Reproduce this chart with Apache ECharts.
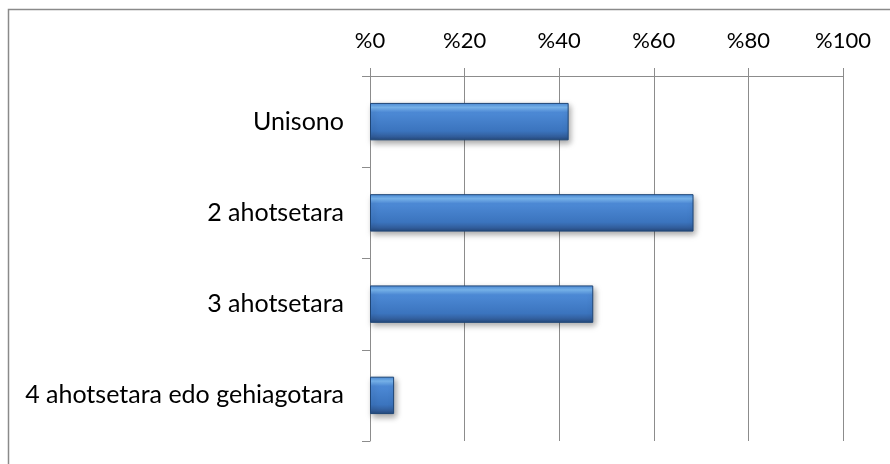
<!DOCTYPE html>
<html><head><meta charset="utf-8">
<script src="https://cdn.jsdelivr.net/npm/echarts@6/dist/echarts.min.js"></script>
<style>html,body{margin:0;padding:0;background:#fff}#c{width:890px;height:464px}</style>
</head><body><div id="c"></div>
<script>
const categories = ['Unisono', '2 ahotsetara', '3 ahotsetara', '4 ahotsetara edo gehiagotara'];
const values = [42.0, 68.4, 47.2, 5.1];
const tickLabels = ['%0', '%20', '%40', '%60', '%80', '%100'];

const chart = echarts.init(document.getElementById('c'), null, {renderer: 'canvas'});
const FONT = 'Lato';
chart.setOption({
  animation: false,
  graphic: [{
    type: 'rect', shape: {x: 8.5, y: 9.5, width: 1000, height: 1000},
    style: {fill: 'none', stroke: '#8a8a8a', lineWidth: 1.5}, z: -1
  }],
  grid: {left: 370, right: 47, top: 76, bottom: 23, containLabel: false},
  xAxis: {
    type: 'value', position: 'top', min: 0, max: 100, interval: 20,
    axisLine: {show: true, lineStyle: {color: '#8c8c8c', width: 1}},
    axisTick: {show: true, inside: false, length: 8, lineStyle: {color: '#8c8c8c'}},
    splitLine: {show: true, lineStyle: {color: '#8c8c8c', width: 1}},
    axisLabel: {
      margin: 24, color: '#000', fontFamily: FONT, fontSize: 22,
      formatter: function (v) { return tickLabels[Math.round(v / 20)]; }
    }
  },
  yAxis: {
    type: 'category', inverse: true, data: categories,
    axisLine: {show: true, lineStyle: {color: '#8c8c8c', width: 1}},
    axisTick: {show: true, length: 8, lineStyle: {color: '#8c8c8c'}},
    axisLabel: {margin: 26, color: '#000', fontFamily: FONT, fontSize: 25}
  },
  series: [{
    type: 'bar', data: values, barWidth: '41%',
    itemStyle: {
      color: new echarts.graphic.LinearGradient(0, 0, 0, 1, [
        {offset: 0, color: '#4a8ad8'},
        {offset: 0.12, color: '#7ab8f2'},
        {offset: 0.25, color: '#4d8ad6'},
        {offset: 0.75, color: '#3b74be'},
        {offset: 0.9, color: '#325e9c'},
        {offset: 1, color: '#24487a'}
      ]),
      borderColor: '#1f4677', borderWidth: 1,
      shadowColor: 'rgba(0,0,0,0.35)', shadowBlur: 6, shadowOffsetX: 2, shadowOffsetY: 3
    }
  }]
});
</script></body></html>
